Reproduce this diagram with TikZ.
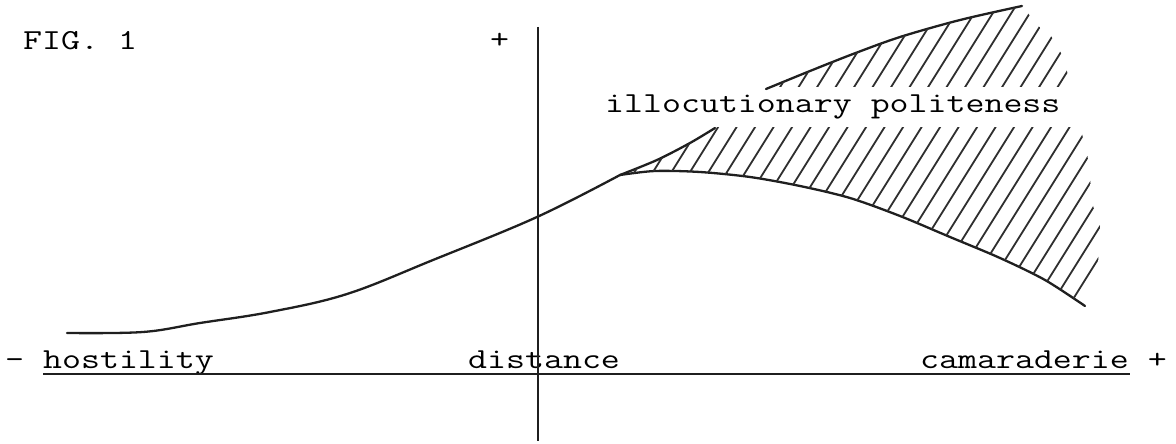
\documentclass[tikz,border=0pt]{standalone}
\usepackage{graphicx}
\newcommand{\tw}[1]{\scalebox{1.27}[1]{\fontsize{29}{32}\selectfont\ttfamily #1}}
\begin{document}
\begin{tikzpicture}[x=1pt,y=-1pt,
  ink/.style={line width=2.3pt,color=black!88,line cap=round,line join=round},
  axisline/.style={line width=2.2pt,color=black!88},
  hatchline/.style={line width=1.8pt,color=black!82,line cap=round},
  lbl/.style={inner sep=0pt,anchor=base west,text=black}]
\useasboundingbox (0,0) rectangle (1176,444);

% texts
\node[lbl] (fig)  at (23,50)   {\tw{FIG. 1}};
\node[lbl] (plus) at (490,49)  {\tw{+}};
\node[lbl] (host) at (5,368)   {\tw{- hostility}};
\node[lbl] (dist) at (468,368) {\tw{distance}};
\node[lbl] (cam)  at (920,368) {\tw{camaraderie +}};
\node[lbl] (ip)   at (605,112) {\tw{illocutionary politeness}};

% axes
\coordinate (vtop) at (538,27);
\coordinate (vbot) at (538,441);
\coordinate (hl) at (43,374);
\coordinate (hr) at (1130,374);
\draw[axisline] (vtop) -- (vbot);
\draw[axisline] (hl) -- (hr);

% main curve
\coordinate (split) at (620,175);
\draw[ink] plot[smooth,tension=0.6] coordinates {(67,333) (143,332) (200,323) (270,312) (347,294) (433,260) (537,217) (620,175)};

% lower branch
\draw[ink] plot[smooth] coordinates {(620,175) (655,171) (700,172) (750,177) (800,186) (850,198) (900,216) (950,237) (1000,258) (1045,280) (1085,306)};

% small upper branch
\draw[ink] plot[smooth] coordinates {(620,175) (657,160) (690,143) (715,128)};

% top line
\draw[ink] plot[smooth] coordinates {(766,89) (810,71) (853,54) (900,37) (960,20) (1022,6)};

% hatching below the label
\begin{scope}
\clip plot[smooth] coordinates {(620,175) (655,171) (700,172) (750,177) (800,186) (850,198) (900,216) (950,237) (1000,258) (1045,280) (1085,306)}
  -- (1100,283) -- (1098,253) -- (1100,226) -- (1092,203) -- (1090,177) -- (1087,152) -- (1080,127) -- (715,127)
  -- plot[smooth] coordinates {(715,128) (690,143) (657,160) (620,175)} -- cycle;
\foreach \k in {0,...,37} \draw[hatchline] ({412.5+18.5*\k},320) -- ++(200,-320);
\end{scope}

% hatching above the label
\begin{scope}
\clip plot[smooth] coordinates {(766,89) (810,71) (853,54) (900,37) (960,20) (1022,6)}
  -- (1027,12) -- (1037,25) -- (1053,38) -- (1063,57) -- (1068,75) -- (1070,87) -- (770,87) -- cycle;
\foreach \k in {0,...,37} \draw[hatchline] ({412.5+18.5*\k},320) -- ++(200,-320);
\end{scope}
\end{tikzpicture}
\end{document}
